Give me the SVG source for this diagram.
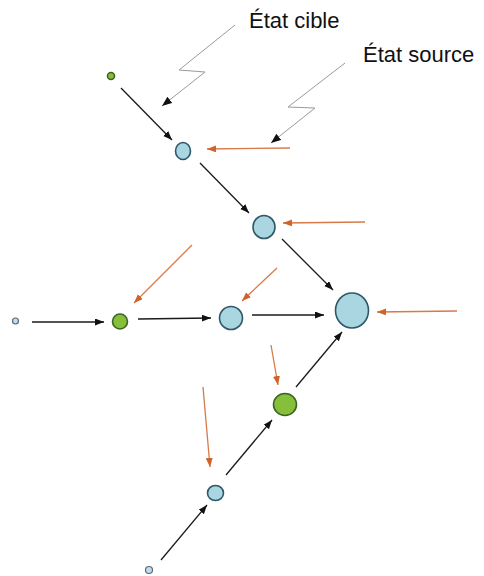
<svg xmlns="http://www.w3.org/2000/svg" width="484" height="576" viewBox="0 0 484 576">
<defs>
<style>
.blue{fill:#aad6e2;stroke:#2e5868;stroke-width:1.6}
.green{fill:#86c03a;stroke:#3d6420;stroke-width:1.6}
.tiny{fill:#c4dcea;stroke:#5a6a78;stroke-width:1.2}
.blk{stroke:#1a1a1a;stroke-width:1.3;fill:none;marker-end:url(#mb)}
.org{stroke:#d8794a;stroke-width:1.3;fill:none;marker-end:url(#mo)}
.gry{stroke:#9a9a9a;stroke-width:1;fill:none;marker-end:url(#mg)}
.lbl{font-family:"Liberation Sans",Arial,sans-serif;font-size:22px;fill:#111}
</style>
<marker id="mb" markerUnits="userSpaceOnUse" markerWidth="10" markerHeight="8" refX="9" refY="3.5" orient="auto"><path d="M0,0 L9,3.5 L0,7 z" fill="#111"/></marker>
<marker id="mo" markerUnits="userSpaceOnUse" markerWidth="10" markerHeight="8" refX="9" refY="3.5" orient="auto"><path d="M0,0 L9,3.5 L0,7 z" fill="#d0622a"/></marker>
<marker id="mg" markerUnits="userSpaceOnUse" markerWidth="11" markerHeight="9" refX="10" refY="4" orient="auto"><path d="M0,0 L10,4 L0,8 z" fill="#111"/></marker>
</defs>
<rect width="484" height="576" fill="#fff"/>
<g id="connectors">
<line class="blk" x1="121" y1="88" x2="172" y2="140"/>
<line class="blk" x1="200" y1="163" x2="249" y2="213"/>
<line class="blk" x1="282" y1="239" x2="333" y2="290"/>
<line class="blk" x1="32" y1="322" x2="104" y2="322"/>
<line class="blk" x1="138" y1="319" x2="211" y2="318"/>
<line class="blk" x1="252" y1="315" x2="324" y2="315"/>
<line class="blk" x1="161" y1="560" x2="207" y2="505"/>
<line class="blk" x1="226" y1="475" x2="272" y2="420"/>
<line class="blk" x1="296" y1="387" x2="342" y2="332"/>
<line class="org" x1="290" y1="148" x2="207" y2="149"/>
<line class="org" x1="365" y1="222" x2="283" y2="223"/>
<line class="org" x1="457" y1="311" x2="377" y2="312"/>
<line class="org" x1="192" y1="245" x2="134" y2="303"/>
<line class="org" x1="277" y1="268" x2="242" y2="301"/>
<line class="org" x1="271" y1="345" x2="278" y2="385"/>
<line class="org" x1="203" y1="387" x2="210" y2="467"/>
<polyline class="gry" points="235,25 179,70 205,72 162,106"/>
<polyline class="gry" points="345,63 288,107 315,108 271,143"/>
</g>
<g id="n1"><circle class="green" cx="111" cy="76" r="3.5"/></g>
<g id="n2"><ellipse class="blue" cx="183" cy="151" rx="7.5" ry="8.5"/></g>
<g id="n3"><ellipse class="blue" cx="264" cy="227" rx="11" ry="11.5"/></g>
<g id="n4"><circle class="tiny" cx="15.5" cy="321" r="3"/></g>
<g id="n5"><circle class="green" cx="120" cy="321.5" r="7.5"/></g>
<g id="n6"><circle class="blue" cx="231" cy="318" r="11.5"/></g>
<g id="n7"><ellipse class="blue" cx="352" cy="310.5" rx="16.5" ry="17.5"/></g>
<g id="n8"><ellipse class="green" cx="285" cy="404.5" rx="11.5" ry="11"/></g>
<g id="n9"><ellipse class="blue" cx="215.5" cy="493" rx="8" ry="7.5"/></g>
<g id="n10"><circle class="tiny" cx="149" cy="570" r="3.5"/></g>
<g id="labels">
<text class="lbl" x="249" y="28">État cible</text>
<text class="lbl" x="363" y="62">État source</text>
</g>
</svg>
